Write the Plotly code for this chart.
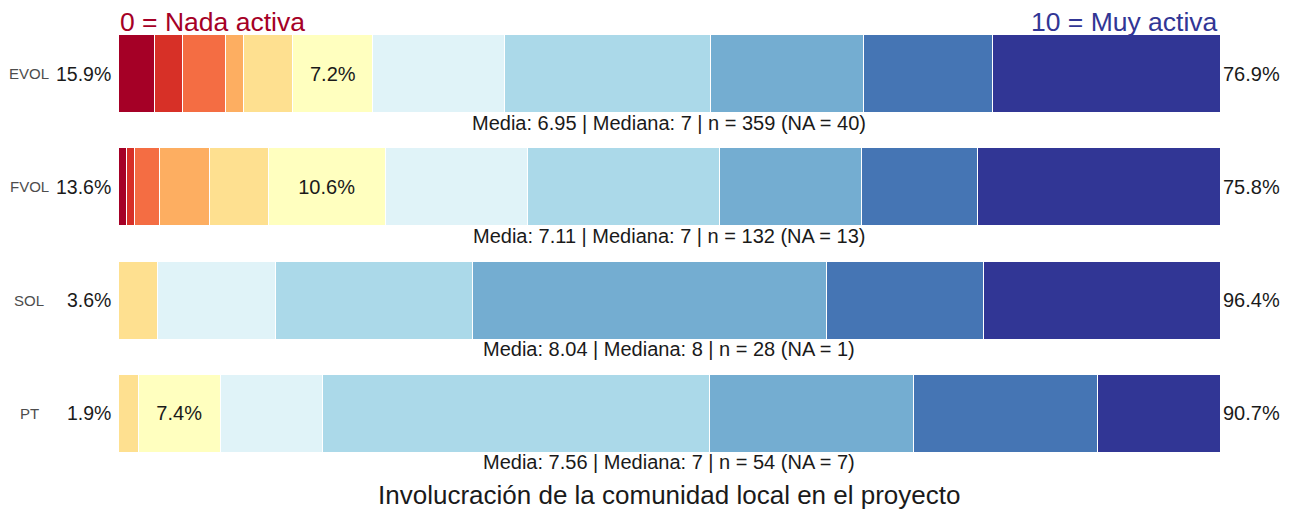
import plotly.graph_objects as go
import numpy as np

groups = ["EVOL", "FVOL", "SOL", "PT"]
levels = list(range(11))
evol_counts = [12, 9, 14, 6, 16, 26, 43, 67, 50, 42, 74]
fvol_counts = [1, 1, 3, 6, 7, 14, 17, 23, 17, 14, 29]
sol_counts = [0, 0, 0, 0, 1, 0, 3, 5, 9, 4, 6]
pt_counts = [0, 0, 0, 0, 1, 4, 5, 19, 10, 9, 6]
na_counts = [40, 13, 1, 7]
colors = ["#a50026", "#d73027", "#f46d43", "#fdae61", "#fee090", "#ffffbf",
          "#e0f3f8", "#abd9e9", "#74add1", "#4575b4", "#313695"]
low_label = "0 = Nada activa"
high_label = "10 = Muy activa"
x_title = "Involucración de la comunidad local en el proyecto"

all_counts = [evol_counts, fvol_counts, sol_counts, pt_counts]
pct = [[c / sum(row) * 100 for c in row] for row in all_counts]

FONT = "Liberation Sans, Arial, sans-serif"
fig = go.Figure()
for k in levels:
    vals = [p[k] for p in pct]
    txt = [f"{v:.1f}%" if (k == 5 and v > 0) else "" for v in vals]
    fig.add_trace(go.Bar(
        y=groups, x=vals, orientation="h", name=str(k),
        marker=dict(color=colors[k], line=dict(color="white", width=1)),
        text=txt, textposition="inside", insidetextanchor="middle",
        textfont=dict(size=20, color="#1a1a1a", family=FONT),
        hoverinfo="skip", showlegend=False,
    ))

PLOT_L, PLOT_R = 117.7, 1220.0
W = PLOT_R - PLOT_L
ann = []
for g, row, na in zip(groups, all_counts, na_counts):
    n = sum(row)
    arr = np.repeat(levels, row)
    mean = arr.mean()
    med = np.median(arr)
    left = sum(row[:5]) / n * 100
    right = sum(row[6:]) / n * 100
    ann.append(dict(x=0, y=g, xref="x", yref="y", text=f"{left:.1f}%", xanchor="right",
                    yanchor="middle", xshift=-5, showarrow=False,
                    font=dict(size=19.5, color="#1a1a1a", family=FONT)))
    ann.append(dict(x=100, y=g, xref="x", yref="y", text=f"{right:.1f}%", xanchor="left",
                    yanchor="middle", xshift=1, showarrow=False,
                    font=dict(size=20, color="#1a1a1a", family=FONT)))
    ann.append(dict(x=(29 - PLOT_L) / W, y=g, xref="paper", yref="y", text=g,
                    xanchor="center", yanchor="middle", showarrow=False,
                    font=dict(size=15, color="#4d4d4d", family=FONT)))
    ann.append(dict(x=0.5, y=g, xref="paper", yref="y",
                    text=f"Media: {mean:.2f} | Mediana: {med:g} | n = {n} (NA = {na})",
                    xanchor="center", yanchor="middle", yshift=-49, showarrow=False,
                    font=dict(size=20, color="#1a1a1a", family=FONT)))

ann.append(dict(x=0, y=groups[0], xref="x", yref="y", text=low_label, xanchor="left",
                yanchor="middle", yshift=52, showarrow=False,
                font=dict(size=26.5, color="#a50026", family=FONT)))
ann.append(dict(x=100, y=groups[0], xref="x", yref="y", text=high_label, xanchor="right",
                yanchor="middle", yshift=52, showarrow=False,
                font=dict(size=26.5, color="#313695", family=FONT)))
ann.append(dict(x=0.5, y=groups[-1], xref="paper", yref="y", text=x_title,
                xanchor="center", yanchor="middle", yshift=-82, showarrow=False,
                font=dict(size=26, color="#1a1a1a", family=FONT)))

fig.update_layout(
    width=1294, height=509, barmode="stack", bargap=0.31,
    margin=dict(l=PLOT_L, r=1294 - PLOT_R, t=17, b=39, pad=0),
    plot_bgcolor="white", paper_bgcolor="white",
    xaxis=dict(range=[0, 100], showgrid=False, zeroline=False, showticklabels=False,
               ticks="", showline=False),
    yaxis=dict(categoryorder="array", categoryarray=groups, range=[3.5, -0.5],
               showgrid=False, zeroline=False, showticklabels=False, ticks="",
               showline=False),
    annotations=ann,
    uniformtext=dict(minsize=8, mode="show"),
    font=dict(family=FONT),
)
fig.write_html("out.html", config={"displayModeBar": False},
               post_script="document.body.style.margin='0';document.body.style.overflow='hidden';")
